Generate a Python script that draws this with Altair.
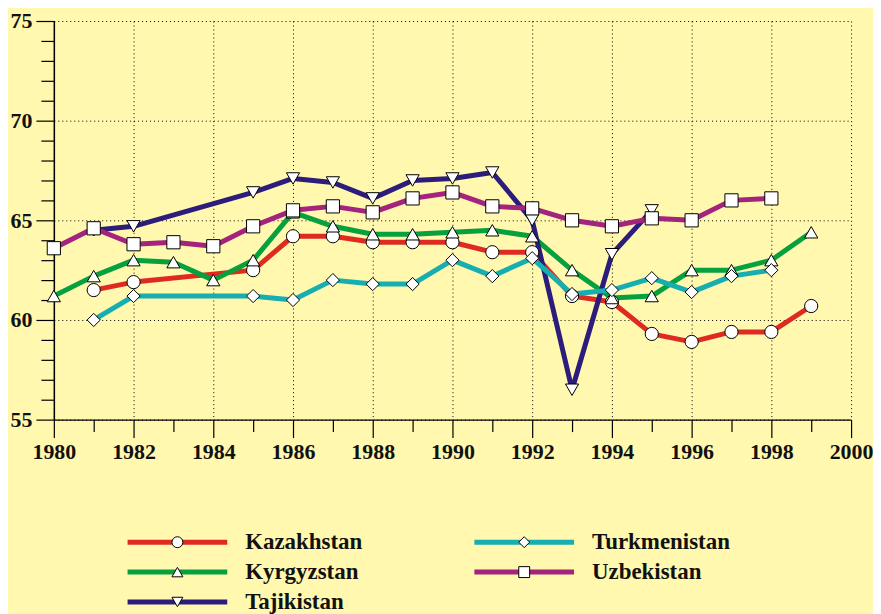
import altair as alt
import pandas as pd

years = list(range(1980, 2000))
countries = ["Kazakhstan", "Kyrgyzstan", "Tajikistan", "Turkmenistan", "Uzbekistan"]
colors = ["#DE2B22", "#06A03E", "#2C1C7C", "#16AEB0", "#A3237F"]
shapes = ["circle", "triangle-up", "triangle-down", "diamond", "square"]

kazakhstan = [None, 61.5, 61.9, None, None, 62.5, 64.2, 64.2, 63.9, 63.9,
              63.9, 63.4, 63.4, 61.2, 60.9, 59.3, 58.9, 59.4, 59.4, 60.7]
kyrgyzstan = [61.2, 62.2, 63.0, 62.9, 62.0, 63.0, 65.4, 64.7, 64.3, 64.3,
              64.4, 64.5, 64.2, 62.5, 61.1, 61.2, 62.5, 62.5, 63.0, 64.4]
tajikistan = [None, 64.5, 64.7, None, None, 66.4, 67.1, 66.9, 66.1, 67.0,
              67.1, 67.4, 65.0, 56.5, 63.3, 65.5, None, None, None, None]
turkmenistan = [None, 60.0, 61.2, None, None, 61.2, 61.0, 62.0, 61.8, 61.8,
                63.0, 62.2, 63.1, 61.3, 61.5, 62.1, 61.4, 62.2, 62.5, None]
uzbekistan = [63.6, 64.6, 63.8, 63.9, 63.7, 64.7, 65.5, 65.7, 65.4, 66.1,
              66.4, 65.7, 65.6, 65.0, 64.7, 65.1, 65.0, 66.0, 66.1, None]

x_ticks = list(range(1980, 2001))
y_ticks = list(range(55, 76))

legend_col = [0, 0, 0, 1, 1]
legend_row = [0, 1, 2, 0, 1]

series = [kazakhstan, kyrgyzstan, tajikistan, turkmenistan, uzbekistan]
rows = []
for i, (name, vals) in enumerate(zip(countries, series)):
    for yr, v in zip(years, vals):
        if v is not None:
            rows.append({"country": name, "order": i, "year": yr, "value": v})
df = pd.DataFrame(rows)

leg_df = pd.DataFrame({"country": countries, "col": legend_col, "row": legend_row,
                       "order": list(range(5))})

FONT = "Liberation Serif"

color_scale = alt.Scale(domain=countries, range=colors)
shape_scale = alt.Scale(domain=countries, range=shapes)

x_enc = alt.X(
    "year:Q",
    scale=alt.Scale(domain=[1980, 2000], nice=False, zero=False),
    axis=alt.Axis(
        values=x_ticks, tickCount=30, format="d", title=None,
        labelExpr="datum.value % 2 === 0 ? datum.label : ''",
        labelFlush=False, labelOverlap=False,
        tickSize={"condition": {"test": "datum.value % 2 === 0", "value": 18}, "value": 12},
        grid=True, gridDash=[1, 3], gridColor="black", gridWidth=1,
        gridOpacity={"condition": {"test": "datum.value % 2 === 0", "value": 1}, "value": 0},
    ),
)
y_enc = alt.Y(
    "value:Q",
    scale=alt.Scale(domain=[55, 75], nice=False, zero=False),
    axis=alt.Axis(
        values=y_ticks, tickCount=30, format="d", title=None,
        labelExpr="datum.value % 5 === 0 ? datum.label : ''",
        labelOverlap=False,
        tickSize={"condition": {"test": "datum.value % 5 === 0", "value": 18}, "value": 13},
        grid=True, gridDash=[1, 3], gridColor="black", gridWidth=1,
        gridOpacity={"condition": {"test": "datum.value % 5 === 0", "value": 1}, "value": 0},
    ),
)

base = alt.Chart(df)
lines = base.mark_line(strokeWidth=5, strokeJoin="round").encode(
    x=x_enc, y=y_enc,
    color=alt.Color("country:N", scale=color_scale, legend=None),
    detail="country:N",
    order=alt.Order("year:Q"),
)
points = base.mark_point(filled=True, fill="white", stroke="black", strokeWidth=1,
                         size=175, opacity=1).encode(
    x="year:Q", y="value:Q",
    shape=alt.Shape("country:N", scale=shape_scale, legend=None),
)
main = alt.layer(lines, points)

lbase = alt.Chart(leg_df).transform_calculate(
    xs="datum.col * 348 + 74",
    xe="datum.col * 348 + 174",
    xm="datum.col * 348 + 124",
    xt="datum.col * 348 + 192",
)
lx = alt.Scale(domain=[0, 800])
ly = alt.Scale(domain=[0, 2], range=[523, 583])
leg_rule = lbase.mark_rule(strokeWidth=5).encode(
    x=alt.X("xs:Q", scale=lx, axis=None),
    x2="xe:Q",
    y=alt.Y("row:Q", scale=ly, axis=None),
    color=alt.Color("country:N", scale=color_scale, legend=None),
)
leg_pt = lbase.mark_point(filled=True, fill="white", stroke="black", strokeWidth=1,
                          size=120, opacity=1).encode(
    x=alt.X("xm:Q", scale=lx, axis=None),
    y=alt.Y("row:Q", scale=ly, axis=None),
    shape=alt.Shape("country:N", scale=shape_scale, legend=None),
)
leg_text = lbase.mark_text(align="left", baseline="middle", font=FONT, fontSize=23,
                           fontWeight="bold", color="#111111").encode(
    x=alt.X("xt:Q", scale=lx, axis=None),
    y=alt.Y("row:Q", scale=ly, axis=None),
    text="country:N",
)
legend = alt.layer(leg_rule, leg_pt, leg_text)

chart = alt.layer(main, legend).resolve_scale(
    x="independent", y="independent"
).properties(
    width=800, height=400,
    padding={"left": 2, "top": 1, "right": 0, "bottom": 0},
    background="#FFF8AE",
).configure_view(stroke=None).configure_axis(
    labelFont=FONT, labelFontSize=22, labelFontWeight="bold", labelColor="#111111",
    labelPadding=4, domainColor="black", domainWidth=1.5,
    tickColor="black", tickWidth=1.2,
)

chart.save("out.html", embed_options={"renderer": "svg", "actions": False})
